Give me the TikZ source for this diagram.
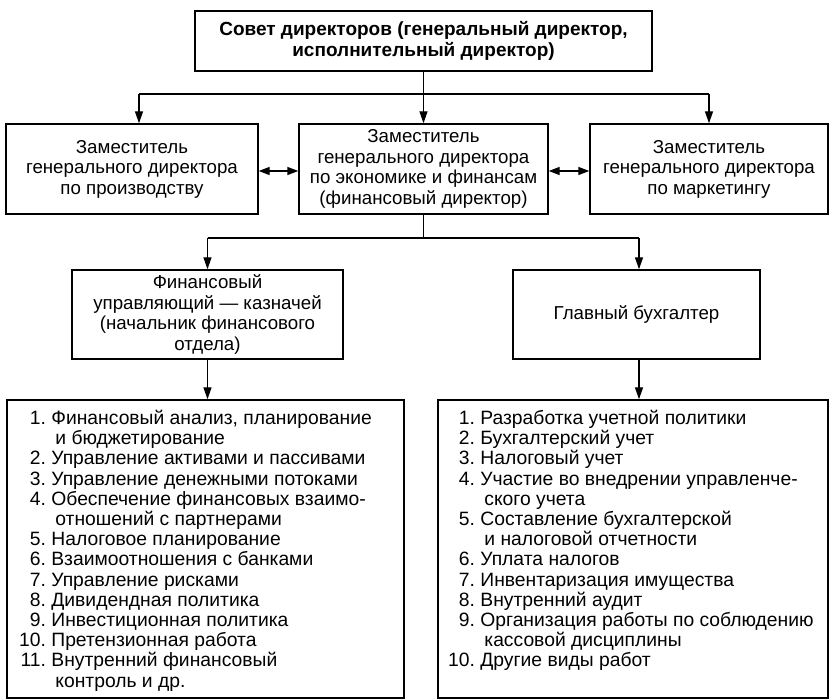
\documentclass[tikz,border=0pt]{standalone}
\usepackage{fontspec}
\setmainfont{Liberation Sans}
\usetikzlibrary{arrows.meta,calc}
\newlength{\numw}
\newcommand{\itm}[1]{\makebox[\numw][r]{#1}\ }
\newcommand{\cnt}{\hspace*{\numw}\ \hspace*{4pt}}
\newcommand{\setnumw}{\settowidth{\numw}{10.}\global\numw=\numw}
\begin{document}
\begin{tikzpicture}[x=1pt,y=-1pt,
  box/.style={draw,line width=1.4pt,rectangle,inner sep=0pt,align=center,
    font=\fontsize{18.7}{20.5}\selectfont},
  listtext/.style={inner sep=0pt,anchor=north west,align=left,
    font=\fontsize{19.3}{20.2}\selectfont\setnumw},
  conn/.style={line width=1.4pt},
  arr/.style={line width=1.4pt,-{Triangle[length=12pt,width=8pt]}},
  darr/.style={line width=1.4pt,{Triangle[length=11pt,width=8pt]}-{Triangle[length=11pt,width=8pt]}}]
\useasboundingbox (0,0) rectangle (831,700);

\node[box,minimum width=457pt,minimum height=60pt,font=\bfseries\fontsize{19}{21}\selectfont] (top) at (423.5,41)
  {Совет директоров (генеральный директор,\\исполнительный директор)};

\node[box,minimum width=252pt,minimum height=90pt] (lbox) at (132,169)
  {Заместитель\\генерального директора\\по производству};
\node[box,minimum width=249pt,minimum height=90pt] (mbox) at (423.5,169)
  {Заместитель\\генерального директора\\по экономике и финансам\\(финансовый директор)};
\node[box,minimum width=238pt,minimum height=90pt] (rbox) at (709,169)
  {Заместитель\\генерального директора\\по маркетингу};

\node[box,minimum width=271pt,minimum height=89pt] (fin) at (207.5,314.5)
  {Финансовый\\управляющий — казначей\\(начальник финансового\\отдела)};
\node[box,minimum width=247pt,minimum height=89pt] (acc) at (636.5,314.5)
  {Главный бухгалтер};

\node[box,minimum width=397pt,minimum height=298pt] (llist) at (205.5,549) {};
\node[box,minimum width=390pt,minimum height=298pt] (rlist) at (633,549) {};

\node[listtext] (ltext) at (19,410) {%
\itm{1.}Финансовый анализ, планирование\\
\cnt и бюджетирование\\
\itm{2.}Управление активами и пассивами\\
\itm{3.}Управление денежными потоками\\
\itm{4.}Обеспечение финансовых взаимо-\\
\cnt отношений с партнерами\\
\itm{5.}Налоговое планирование\\
\itm{6.}Взаимоотношения с банками\\
\itm{7.}Управление рисками\\
\itm{8.}Дивидендная политика\\
\itm{9.}Инвестиционная политика\\
\itm{10.}Претензионная работа\\
\itm{11.}Внутренний финансовый\\
\cnt контроль и др.};

\node[listtext] (rtext) at (448,410) {%
\itm{1.}Разработка учетной политики\\
\itm{2.}Бухгалтерский учет\\
\itm{3.}Налоговый учет\\
\itm{4.}Участие во внедрении управленче-\\
\cnt ского учета\\
\itm{5.}Составление бухгалтерской\\
\cnt и налоговой отчетности\\
\itm{6.}Уплата налогов\\
\itm{7.}Инвентаризация имущества\\
\itm{8.}Внутренний аудит\\
\itm{9.}Организация работы по соблюдению\\
\cnt кассовой дисциплины\\
\itm{10.}Другие виды работ};

% connectors level 1
\coordinate (j1) at (423.5,94);
\coordinate (jl) at (139,94);
\coordinate (jr) at (709,94);
\draw[conn] (top.south) -- (j1);
\draw[conn] (jl) -- (jr);
\draw[arr] (j1) -- (mbox.north);
\draw[arr] (jl) -- (jl |- lbox.north);
\draw[arr] (jr) -- (rbox.north);
\coordinate (dy) at (0,171);
\draw[darr] (lbox.east |- dy) -- (mbox.west |- dy);
\draw[darr] (mbox.east |- dy) -- (rbox.west |- dy);

% connectors level 2
\coordinate (j2) at (423.5,238);
\coordinate (j2l) at (207.5,238);
\coordinate (j2r) at (639,238);
\draw[conn] (mbox.south) -- (j2);
\draw[conn] (j2l) -- (j2r);
\draw[arr] (j2l) -- (fin.north);
\draw[arr] (j2r) -- (j2r |- acc.north);

% connectors level 3
\draw[arr] (fin.south) -- (fin.south |- llist.north);
\coordinate (j3) at (639,359);
\draw[arr] (j3) -- (j3 |- rlist.north);
\end{tikzpicture}
\end{document}
